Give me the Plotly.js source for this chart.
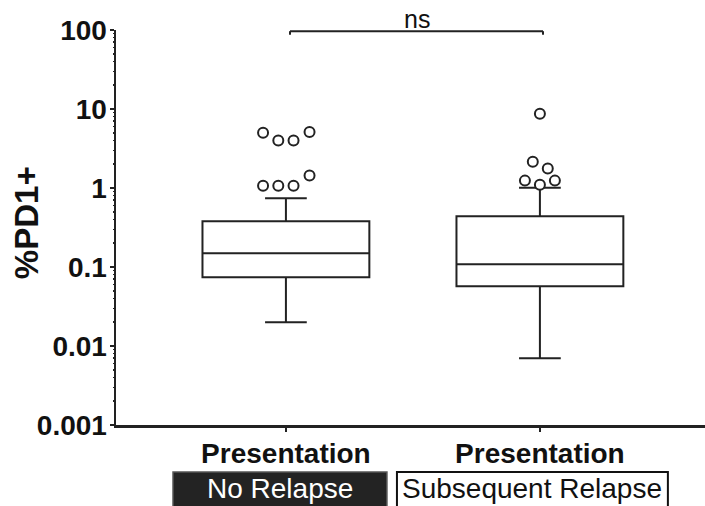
<!DOCTYPE html>
<html>
<head>
<meta charset="utf-8">
<script src="https://cdn.plot.ly/plotly-3.0.1.min.js"></script>
<style>html,body{margin:0;padding:0;background:#fff;}#chart{width:705px;height:506px;}</style>
</head>
<body>
<div id="chart"></div>
<script>
// ---- data ----
var categories = ["Presentation", "Presentation"];
var groupNames = ["No Relapse", "Subsequent Relapse"];
var groupIndex = [0, 1];
var lowerWhisker = [0.020, 0.0070];
var q1Values = [0.074, 0.057];
var medianValues = [0.149, 0.108];
var q3Values = [0.38, 0.44];
var upperWhisker = [0.74, 1.01];

var outlierGroup  = [0, 0, 0, 0, 0, 0, 0, 0, 1, 1, 1, 1, 1, 1];
var outlierOffset = [-0.09, -0.03, 0.03, 0.093, -0.09, -0.03, 0.03, 0.093, 0, -0.028, 0.031, -0.059, 0, 0.059];
var outlierValue  = [5.0, 4.0, 4.0, 5.1, 1.07, 1.07, 1.07, 1.44, 8.7, 2.15, 1.76, 1.24, 1.10, 1.24];

var yTickVals = [0.001, 0.01, 0.1, 1, 10, 100];
var yTickText = ["0.001", "0.01", "0.1", "1", "10", "100"];
var yTitle = "%PD1+";
var sigLabel = "ns";

// minor tick positions for the log axis (2..9 within each decade)
var minorTicks = [];
for (var d = -3; d < 2; d++) {
  for (var m = 2; m <= 9; m++) minorTicks.push(m * Math.pow(10, d));
}

var ink = "#222222";
var font = "Liberation Sans, Arial, sans-serif";

var outX = outlierGroup.map(function (g, i) { return g + outlierOffset[i]; });

var traces = [
  {
    type: "box",
    x: groupIndex,
    q1: q1Values,
    median: medianValues,
    q3: q3Values,
    lowerfence: lowerWhisker,
    upperfence: upperWhisker,
    boxpoints: false,
    width: 0.657,
    whiskerwidth: 0.25,
    fillcolor: "rgba(255,255,255,1)",
    line: { color: ink, width: 2 },
    showlegend: false,
    hoverinfo: "skip"
  },
  {
    type: "scatter",
    mode: "markers",
    x: outX,
    y: outlierValue,
    marker: { symbol: "circle", size: 10, color: "#ffffff", line: { color: ink, width: 2 } },
    showlegend: false,
    hoverinfo: "skip"
  },
  {
    type: "scatter",
    mode: "markers",
    x: [0],
    y: [1],
    yaxis: "y2",
    marker: { opacity: 0 },
    showlegend: false,
    hoverinfo: "skip"
  }
];

var layout = {
  width: 705,
  height: 506,
  margin: { l: 116, r: 0, t: 30, b: 81 },
  paper_bgcolor: "#ffffff",
  plot_bgcolor: "#ffffff",
  showlegend: false,
  font: { family: font, color: ink },
  xaxis: {
    range: [-0.669, 1.65],
    tickvals: groupIndex,
    ticktext: categories,
    tickfont: { family: font, size: 28, color: "#111", weight: "bold" },
    ticks: "outside",
    ticklen: 4,
    tickwidth: 1.5,
    tickcolor: ink,
    ticklabelstandoff: -2,
    showline: true,
    linecolor: ink,
    linewidth: 2.5,
    showgrid: false,
    zeroline: false,
    fixedrange: true
  },
  yaxis: {
    type: "log",
    range: [-3, 2],
    tickvals: yTickVals,
    ticktext: yTickText,
    tickfont: { family: font, size: 28, color: "#111", weight: "bold" },
    ticks: "outside",
    ticklen: 4,
    tickwidth: 2,
    tickcolor: ink,
    ticklabelstandoff: -3,
    showline: true,
    linecolor: ink,
    linewidth: 2.5,
    showgrid: false,
    zeroline: false,
    fixedrange: true
  },
  yaxis2: {
    type: "log",
    range: [-3, 2],
    overlaying: "y",
    side: "left",
    tickvals: minorTicks,
    showticklabels: false,
    ticks: "outside",
    ticklen: 2,
    tickwidth: 1.5,
    tickcolor: ink,
    showline: false,
    showgrid: false,
    zeroline: false,
    fixedrange: true
  },
  shapes: [
    // significance bracket
    { type: "line", xref: "paper", yref: "paper", x0: 0.2954, x1: 0.725, y0: 0.997, y1: 0.997, line: { color: ink, width: 2 } },
    { type: "line", xref: "paper", yref: "paper", x0: 0.2954, x1: 0.2954, y0: 0.997, y1: 0.988, line: { color: ink, width: 2 } },
    { type: "line", xref: "paper", yref: "paper", x0: 0.725, x1: 0.725, y0: 0.997, y1: 0.988, line: { color: ink, width: 2 } },
    // group label boxes
    { type: "rect", xref: "paper", yref: "paper", x0: 0.0968, x1: 0.460, y0: -0.119, y1: -0.25, fillcolor: "#232323", line: { color: "#555", width: 1.5 } },
    { type: "rect", xref: "paper", yref: "paper", x0: 0.477, x1: 0.937, y0: -0.119, y1: -0.25, fillcolor: "#ffffff", line: { color: "#111", width: 2 } }
  ],
  annotations: [
    { xref: "paper", yref: "paper", x: -0.1528, y: 0.511, xanchor: "center", yanchor: "middle", textangle: -90, text: yTitle, showarrow: false, font: { family: font, size: 33, color: "#111", weight: "bold" } },
    { xref: "paper", yref: "paper", x: 0.511, y: 0.988, yanchor: "bottom", xanchor: "center", text: sigLabel, showarrow: false, font: { family: font, size: 25, color: "#111" } },
    { xref: "paper", yref: "paper", x: (0.0968 + 0.460) / 2, y: -0.2015, yanchor: "bottom", xanchor: "center", text: groupNames[0], showarrow: false, font: { family: font, size: 28, color: "#ffffff" }, borderpad: 0 },
    { xref: "paper", yref: "paper", x: (0.477 + 0.937) / 2, y: -0.2015, yanchor: "bottom", xanchor: "center", text: groupNames[1], showarrow: false, font: { family: font, size: 28, color: "#111" }, borderpad: 0 }
  ]
};

Plotly.newPlot("chart", traces, layout, { displayModeBar: false, staticPlot: true });
</script>
</body>
</html>
